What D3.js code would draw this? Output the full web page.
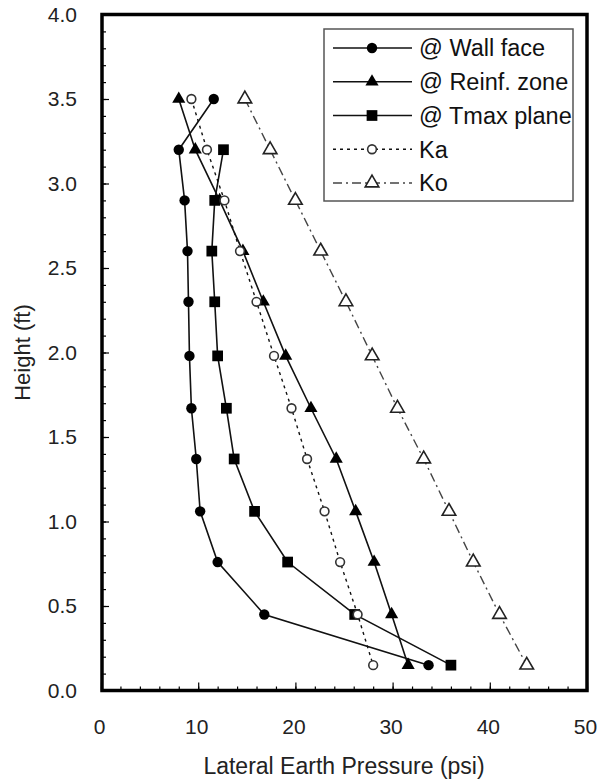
<!DOCTYPE html>
<html>
<head>
<meta charset="utf-8">
<script src="https://cdn.jsdelivr.net/npm/d3@7"></script>
<style>
  body { margin: 0; background: #fff; }
  text { font-family: "Liberation Sans", Arial, sans-serif; }
</style>
</head>
<body>
<div id="chart"></div>
<script>
// hauteurs de mesure (ft)
const heights = [3.50, 3.20, 2.90, 2.60, 2.30, 1.98, 1.67, 1.37, 1.06, 0.76, 0.45, 0.15];

// pressions laterales (psi)
const wallFace  = [11.6, 8.0, 8.6, 8.9, 9.0, 9.1, 9.3, 9.8, 10.2, 12.0, 16.8, 33.7];
const reinfZone = [8.0, 9.7, 12.2, 14.6, 16.7, 19.0, 21.6, 24.2, 26.2, 28.1, 29.9, 31.6];
const tmaxPlane = [null, 12.6, 11.7, 11.4, 11.7, 12.0, 12.9, 13.7, 15.8, 19.2, 26.1, 36.0];
const ka        = [9.3, 10.9, 12.7, 14.3, 16.0, 17.8, 19.6, 21.2, 23.0, 24.6, 26.4, 28.0];
const ko        = [14.8, 17.4, 20.0, 22.6, 25.2, 27.9, 30.5, 33.2, 35.8, 38.3, 41.0, 43.8];

const seriesNames = ["@ Wall face", "@ Reinf. zone", "@ Tmax plane", "Ka", "Ko"];
const xTicks = [0, 10, 20, 30, 40, 50];
const yTicks = [0.0, 0.5, 1.0, 1.5, 2.0, 2.5, 3.0, 3.5, 4.0];

const width = 600, height = 780;
const margin = { top: 14.5, right: 13, bottom: 89.5, left: 102 };

const svg = d3.select("#chart").append("svg")
  .attr("width", width)
  .attr("height", height);

const x = d3.scaleLinear().domain([0, 50]).range([margin.left - 1, width - margin.right]);
const y = d3.scaleLinear().domain([0, 4]).range([height - margin.bottom, margin.top]);

// styles des series
const styles = [
  { values: wallFace,  symbol: d3.symbolCircle,   size: 85,  fill: "#000", stroke: "none", dash: null,       line: "#111", lw: 1.6 },
  { values: reinfZone, symbol: d3.symbolTriangle, size: 75,  fill: "#000", stroke: "none", dash: null,       line: "#111", lw: 1.6 },
  { values: tmaxPlane, symbol: d3.symbolSquare,   size: 115, fill: "#000", stroke: "none", dash: null,       line: "#111", lw: 1.6 },
  { values: ka,        symbol: d3.symbolCircle,   size: 60,  fill: "#fff", stroke: "#333", dash: "3,4",     line: "#111", lw: 1.4 },
  { values: ko,        symbol: d3.symbolTriangle, size: 80,  fill: "#fff", stroke: "#222", dash: "9,4,2,4", line: "#444", lw: 1.4 }
];

const plot = svg.append("g");

const line = d3.line()
  .defined(d => d.v !== null)
  .x(d => x(d.v))
  .y(d => y(d.h));

styles.forEach((s, i) => {
  const pts = heights.map((h, j) => ({ h: h, v: s.values[j] }));

  plot.append("path")
    .datum(pts)
    .attr("fill", "none")
    .attr("stroke", s.line)
    .attr("stroke-width", s.lw)
    .attr("stroke-dasharray", s.dash)
    .attr("d", line);

  plot.append("g")
    .selectAll("path")
    .data(pts.filter(d => d.v !== null))
    .join("path")
    .attr("transform", d => `translate(${x(d.v)},${y(d.h)})`)
    .attr("d", d3.symbol().type(s.symbol).size(s.size))
    .attr("fill", s.fill)
    .attr("stroke", s.stroke)
    .attr("stroke-width", 1.6);
});

// axes : graduations vers l'interieur
const xMinor = svg.append("g")
  .attr("transform", `translate(0,${y(0)})`)
  .call(d3.axisBottom(x).tickValues(d3.range(0, 51, 2)).tickSize(-4).tickFormat(""));
const xMajor = svg.append("g")
  .attr("transform", `translate(0,${y(0)})`)
  .call(d3.axisBottom(x).tickValues(xTicks).tickSize(-8).tickPadding(29).tickFormat(d3.format("d")));

const yMinor = svg.append("g")
  .attr("transform", `translate(${x(0) + 1},0)`)
  .call(d3.axisLeft(y).tickValues(d3.range(0, 41, 1).map(d => d / 10)).tickSize(-4).tickFormat(""));
const yMajor = svg.append("g")
  .attr("transform", `translate(${x(0) + 1},0)`)
  .call(d3.axisLeft(y).tickValues(yTicks).tickSize(-7).tickPadding(25).tickFormat(d3.format(".1f")));

[xMinor, xMajor, yMinor, yMajor].forEach(g => {
  g.select(".domain").remove();
  g.selectAll(".tick line").attr("stroke", "#000").attr("stroke-width", 1.2);
  g.selectAll("text").attr("font-size", 21).attr("fill", "#222")
    .style("font-family", '"Liberation Sans", Arial, sans-serif');
});
xMajor.selectAll("text").attr("dx", "-2");

// cadre
svg.append("rect")
  .attr("x", x(0) + 1)
  .attr("y", y(4))
  .attr("width", x(50) - x(0) - 1)
  .attr("height", y(0) - y(4))
  .attr("fill", "none")
  .attr("stroke", "#000")
  .attr("stroke-width", 3.5);

// titres des axes
svg.append("text")
  .attr("x", (x(0) + x(50)) / 2)
  .attr("y", 774)
  .attr("text-anchor", "middle")
  .attr("font-size", 23)
  .attr("fill", "#222")
  .text("Lateral Earth Pressure (psi)");

svg.append("text")
  .attr("transform", `translate(30,${(y(0) + y(4)) / 2}) rotate(-90)`)
  .attr("text-anchor", "middle")
  .attr("font-size", 22)
  .attr("fill", "#222")
  .text("Height (ft)");

// legende
const legend = svg.append("g");
legend.append("rect")
  .attr("x", 324).attr("y", 29)
  .attr("width", 249).attr("height", 172)
  .attr("fill", "#fff")
  .attr("stroke", "#555")
  .attr("stroke-width", 1.5);

const rowY = d3.scalePoint().domain(seriesNames).range([48, 183]);

styles.forEach((s, i) => {
  const name = seriesNames[i];
  const ly = rowY(name);
  legend.append("line")
    .attr("x1", 333).attr("x2", 412)
    .attr("y1", ly).attr("y2", ly)
    .attr("stroke", s.line)
    .attr("stroke-width", s.lw)
    .attr("stroke-dasharray", s.dash);
  legend.append("path")
    .attr("transform", `translate(372,${ly})`)
    .attr("d", d3.symbol().type(s.symbol).size(s.size))
    .attr("fill", s.fill)
    .attr("stroke", s.stroke)
    .attr("stroke-width", 1.6);
  legend.append("text")
    .attr("x", 419)
    .attr("y", ly)
    .attr("dy", "0.36em")
    .attr("font-size", 23.5)
    .attr("fill", "#111")
    .text(name);
});
</script>
</body>
</html>
